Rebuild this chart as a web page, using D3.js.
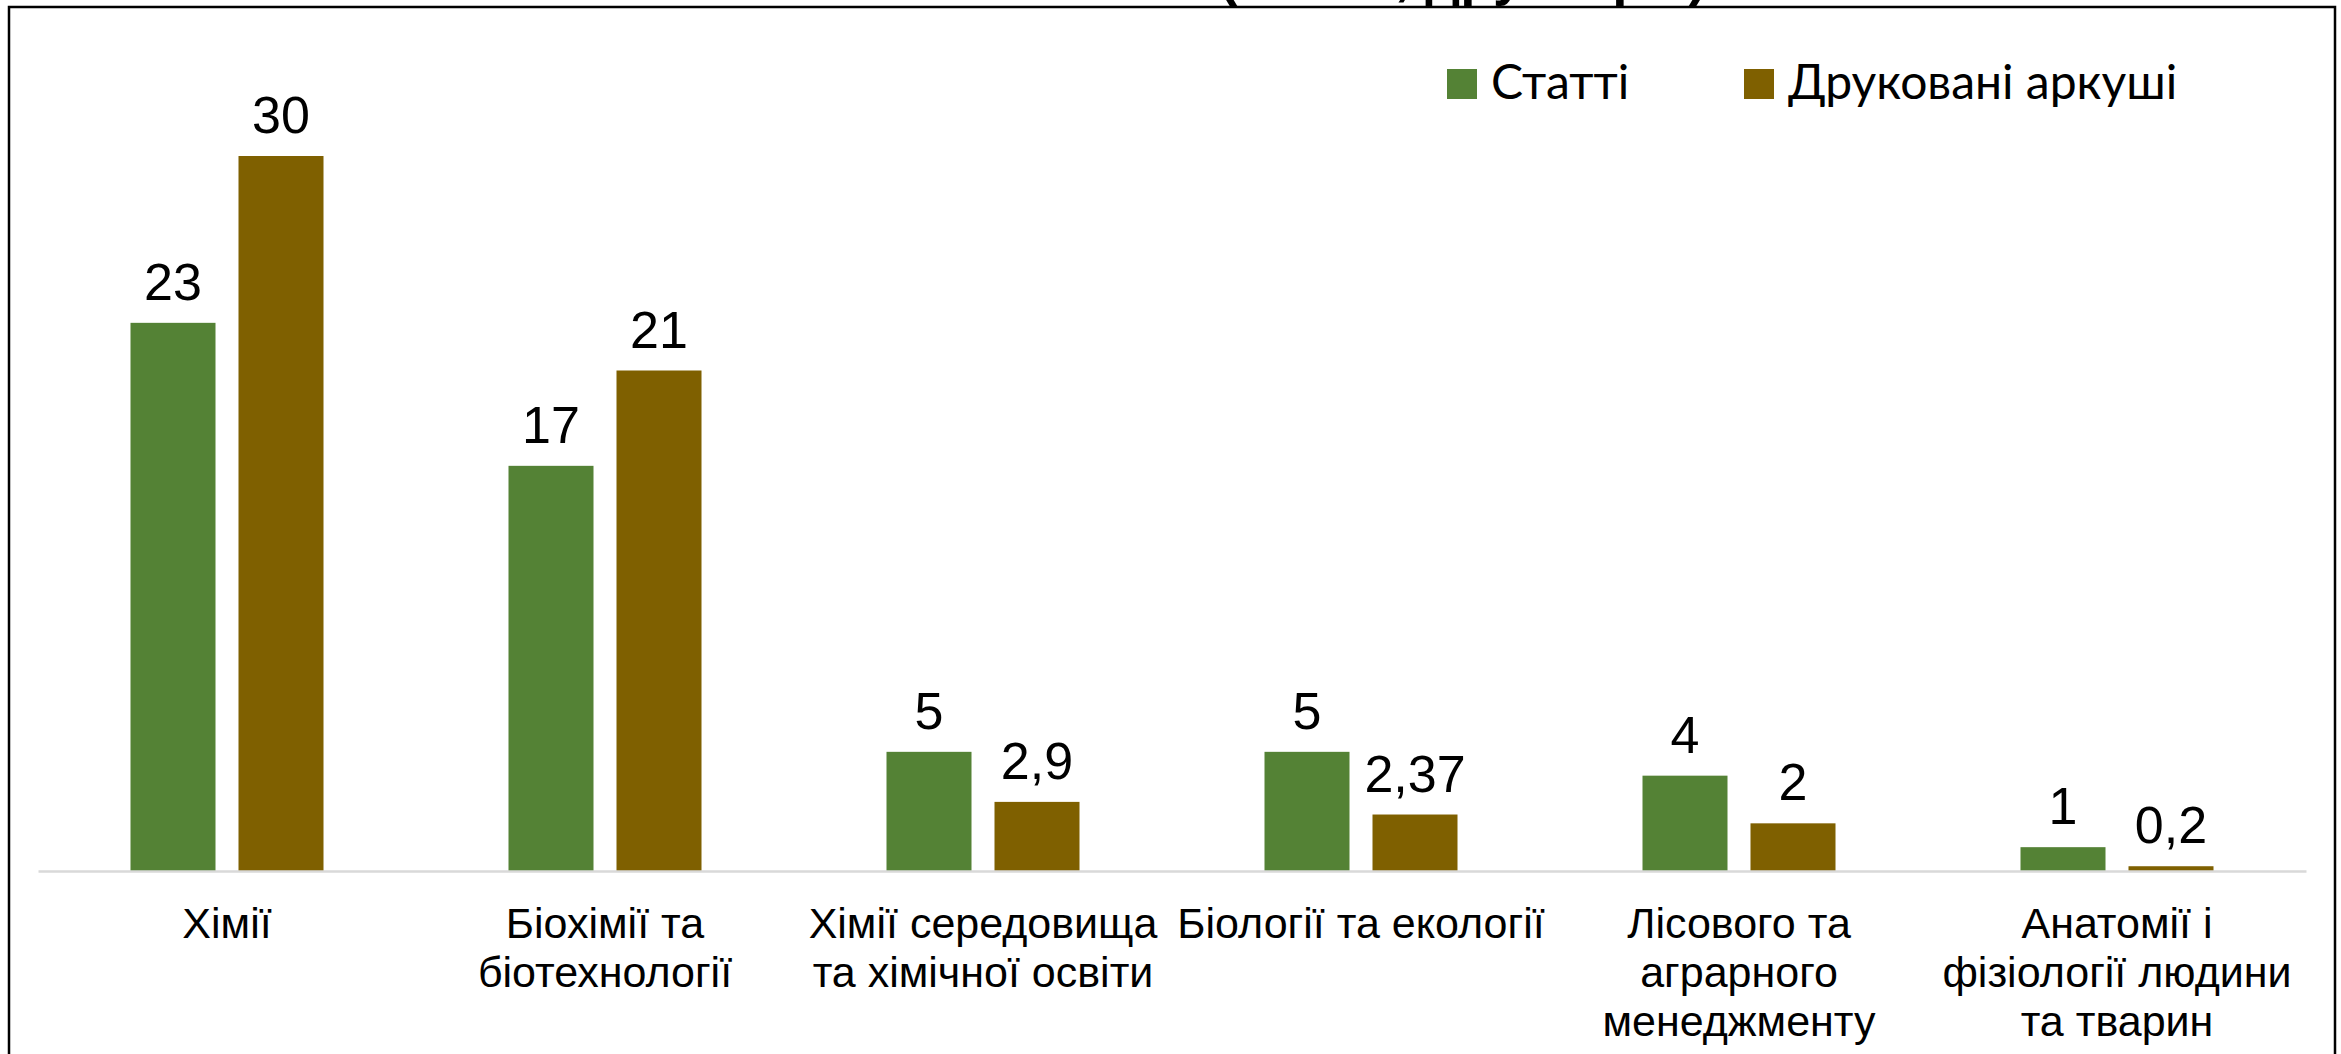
<!DOCTYPE html>
<html>
<head>
<meta charset="utf-8">
<script src="https://cdn.jsdelivr.net/npm/d3@7/dist/d3.min.js"></script>
<style>
  html, body { margin: 0; padding: 0; background: #fff; }
  svg { display: block; }
</style>
</head>
<body>
<svg id="chart" width="2341" height="1054"></svg>
<script>
// ---- data ----
const categories = [
  "Хімії",
  "Біохімії та\nбіотехнології",
  "Хімії середовища\nта хімічної освіти",
  "Біології та екології",
  "Лісового та\nаграрного\nменеджменту",
  "Анатомії і\nфізіології людини\nта тварин"
];
const seriesNames = ["Статті", "Друковані аркуші"];
const articles = [23, 17, 5, 5, 4, 1];
const printedSheets = [30, 21, 2.9, 2.37, 2, 0.2];
const seriesValues = [articles, printedSheets];
const titleText = "(статті, друк. арк.)";

// ---- layout ----
const colors = ["#548235", "#7F6000"];
const svg = d3.select("#chart");

const fmt = v => String(v).replace(".", ",");

const x0 = d3.scaleBand().domain(categories).range([38, 2306]).paddingInner(0).paddingOuter(0);
const bw = x0.bandwidth();
const x1 = d3.scaleBand().domain(seriesNames)
  .range([bw / 2 - 96.5, bw / 2 + 96.5]).paddingInner(23 / 108).paddingOuter(0);
const y = d3.scaleLinear().domain([0, 30]).range([871, 156]);

// frame
svg.append("rect")
  .attr("x", 9).attr("y", 7).attr("width", 2326).attr("height", 1200)
  .attr("fill", "none").attr("stroke", "#000").attr("stroke-width", 2.5);

// title: sits above the frame, mostly outside the picture as in the reference
svg.append("text")
  .attr("x", 1707).attr("y", -6)
  .attr("text-anchor", "end")
  .attr("font-family", "Liberation Sans, Arial, sans-serif")
  .attr("font-weight", "bold")
  .attr("font-size", 55)
  .text(titleText);

// bars
const groups = svg.append("g").selectAll("g")
  .data(categories)
  .join("g")
  .attr("transform", d => `translate(${x0(d)},0)`);

groups.selectAll("rect")
  .data((d, i) => seriesNames.map((s, j) => ({ s, j, v: seriesValues[j][i] })))
  .join("rect")
  .attr("x", d => x1(d.s))
  .attr("width", x1.bandwidth())
  .attr("y", d => y(d.v))
  .attr("height", d => y(0) - y(d.v))
  .attr("fill", d => colors[d.j]);

groups.selectAll("text.val")
  .data((d, i) => seriesNames.map((s, j) => ({ s, j, v: seriesValues[j][i] })))
  .join("text")
  .attr("class", "val")
  .attr("x", d => x1(d.s) + x1.bandwidth() / 2)
  .attr("y", d => y(d.v) - 23)
  .attr("text-anchor", "middle")
  .attr("font-family", "Liberation Sans, Arial, sans-serif")
  .attr("font-size", 52)
  .attr("fill", "#000")
  .text(d => fmt(d.v));

// x axis line
const xAxis = d3.axisBottom(x0).tickSize(0).tickFormat("");
const axG = svg.append("g").attr("transform", `translate(0,${y(0)})`).call(xAxis);
axG.select(".domain").attr("stroke", "#d9d9d9").attr("stroke-width", 2.5);

// category labels
const catG = svg.append("g");
categories.forEach(c => {
  const lines = c.split("\n");
  const t = catG.append("text")
    .attr("text-anchor", "middle")
    .attr("font-family", "Liberation Sans, Arial, sans-serif")
    .attr("font-size", 43)
    .attr("fill", "#000");
  lines.forEach((ln, k) => {
    t.append("tspan")
      .attr("x", x0(c) + bw / 2)
      .attr("y", 938 + k * 49)
      .text(ln);
  });
});

// legend
const legendX = [1447, 1744];
const lg = svg.append("g");
seriesNames.forEach((s, j) => {
  lg.append("rect").attr("x", legendX[j]).attr("y", 69).attr("width", 30).attr("height", 30).attr("fill", colors[j]);
  lg.append("text")
    .attr("x", legendX[j] + 44).attr("y", 99)
    .attr("font-family", "Lato, 'Open Sans', sans-serif")
    .attr("font-size", 48)
    .attr("fill", "#000")
    .text(s);
});
</script>
</body>
</html>
